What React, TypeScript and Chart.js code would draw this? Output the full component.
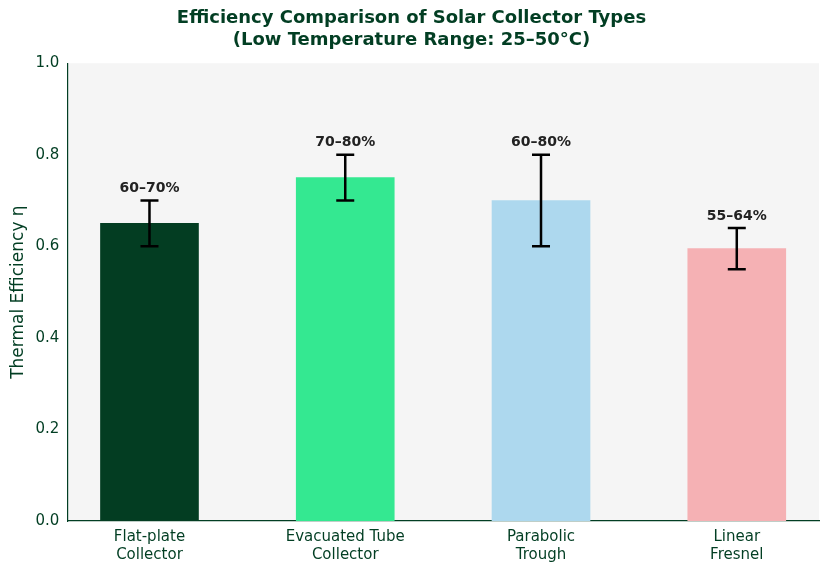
import React, { useEffect, useRef } from "react";
import { Chart, registerables } from "chart.js";
Chart.register(...registerables);

const categories: string[][] = [["Flat-plate", "Collector"], ["Evacuated Tube", "Collector"], ["Parabolic", "Trough"], ["Linear", "Fresnel"]];
const values = [0.65, 0.75, 0.70, 0.595];
const errLow = [0.60, 0.70, 0.60, 0.55];
const errHigh = [0.70, 0.80, 0.80, 0.64];
const rangeLabels = ["60–70%", "70–80%", "60–80%", "55–64%"];
const colors = ["#033d22", "#34e891", "#add8ee", "#f5b1b4"];
const yTicks = [0, 0.2, 0.4, 0.6, 0.8, 1.0];
const DARK = "#023e23";

export default function App() {
  const ref = useRef<HTMLCanvasElement>(null);
  useEffect(() => {
    const bgPlugin = {
      id: "bg",
      beforeDraw(chart: any) {
        const { ctx, chartArea: a } = chart;
        ctx.save();
        ctx.fillStyle = "#f5f5f5";
        ctx.fillRect(a.left, a.top, a.right - a.left, a.bottom - a.top);
        ctx.restore();
      },
    };
    const errPlugin = {
      id: "err",
      afterDatasetsDraw(chart: any) {
        const { ctx, scales } = chart;
        const xs = scales.x, ys = scales.y;
        ctx.save();
        ctx.strokeStyle = "#000";
        ctx.lineWidth = 2.5;
        values.forEach((_, i) => {
          const x = xs.getPixelForValue(i);
          const yl = ys.getPixelForValue(errLow[i]);
          const yh = ys.getPixelForValue(errHigh[i]);
          ctx.beginPath();
          ctx.moveTo(x, yl); ctx.lineTo(x, yh);
          ctx.moveTo(x - 9, yl); ctx.lineTo(x + 9, yl);
          ctx.moveTo(x - 9, yh); ctx.lineTo(x + 9, yh);
          ctx.stroke();
          ctx.fillStyle = "#222";
          ctx.font = "bold 14px 'DejaVu Sans'";
          ctx.textAlign = "center";
          ctx.textBaseline = "bottom";
          ctx.fillText(rangeLabels[i], x, yh - 5);
        });
        ctx.restore();
      },
    };
    const chart = new Chart(ref.current!, {
      type: "bar",
      data: {
        datasets: [{
          data: values.map((v, i) => ({ x: i, y: v })),
          backgroundColor: colors,
          barThickness: 98,
        }],
      },
      options: {
        animation: false,
        responsive: false,
        layout: { padding: { right: 10, left: 4 } },
        plugins: {
          legend: { display: false },
          tooltip: { enabled: false },
          title: {
            display: true,
            text: ["Efficiency Comparison of Solar Collector Types", "(Low Temperature Range: 25–50°C)"],
            color: DARK,
            font: { family: "'DejaVu Sans'", size: 18, weight: "bold" },
            padding: { top: 8, bottom: 12 },
          },
        },
        scales: {
          x: {
            type: "linear",
            offset: false,
            min: -0.42,
            max: 3.42,
            afterBuildTicks: (s: any) => { s.ticks = [0, 1, 2, 3].map((v) => ({ value: v })); },
            ticks: {
              color: DARK,
              font: { family: "'DejaVu Sans'", size: 15 },
              callback: (v: any) => categories[v as number],
              maxRotation: 0,
              autoSkip: false,
              padding: 2,
            },
            grid: { display: false, drawTicks: true, tickLength: 5 },
            border: { color: DARK, width: 1.2 },
          },
          y: {
            min: 0,
            max: 1,
            afterBuildTicks: (s: any) => { s.ticks = yTicks.map((v) => ({ value: v })); },
            ticks: {
              color: DARK,
              font: { family: "'DejaVu Sans'", size: 15 },
              callback: (v: any) => Number(v).toFixed(1),
            },
            grid: { display: false, drawTicks: true, tickLength: 5 },
            border: { color: DARK, width: 1.2 },
            title: {
              display: true,
              text: "Thermal Efficiency η",
              color: DARK,
              font: { family: "'DejaVu Sans'", size: 17 },
            },
          },
        },
      },
      plugins: [bgPlugin, errPlugin],
    } as any);
    return () => chart.destroy();
  }, []);
  return (
    <div style={{ position: "fixed", left: 0, top: 0, width: 829, height: 566, background: "#fff" }}>
      <canvas ref={ref} width={829} height={566} style={{ width: 829, height: 566 }} />
    </div>
  );
}
